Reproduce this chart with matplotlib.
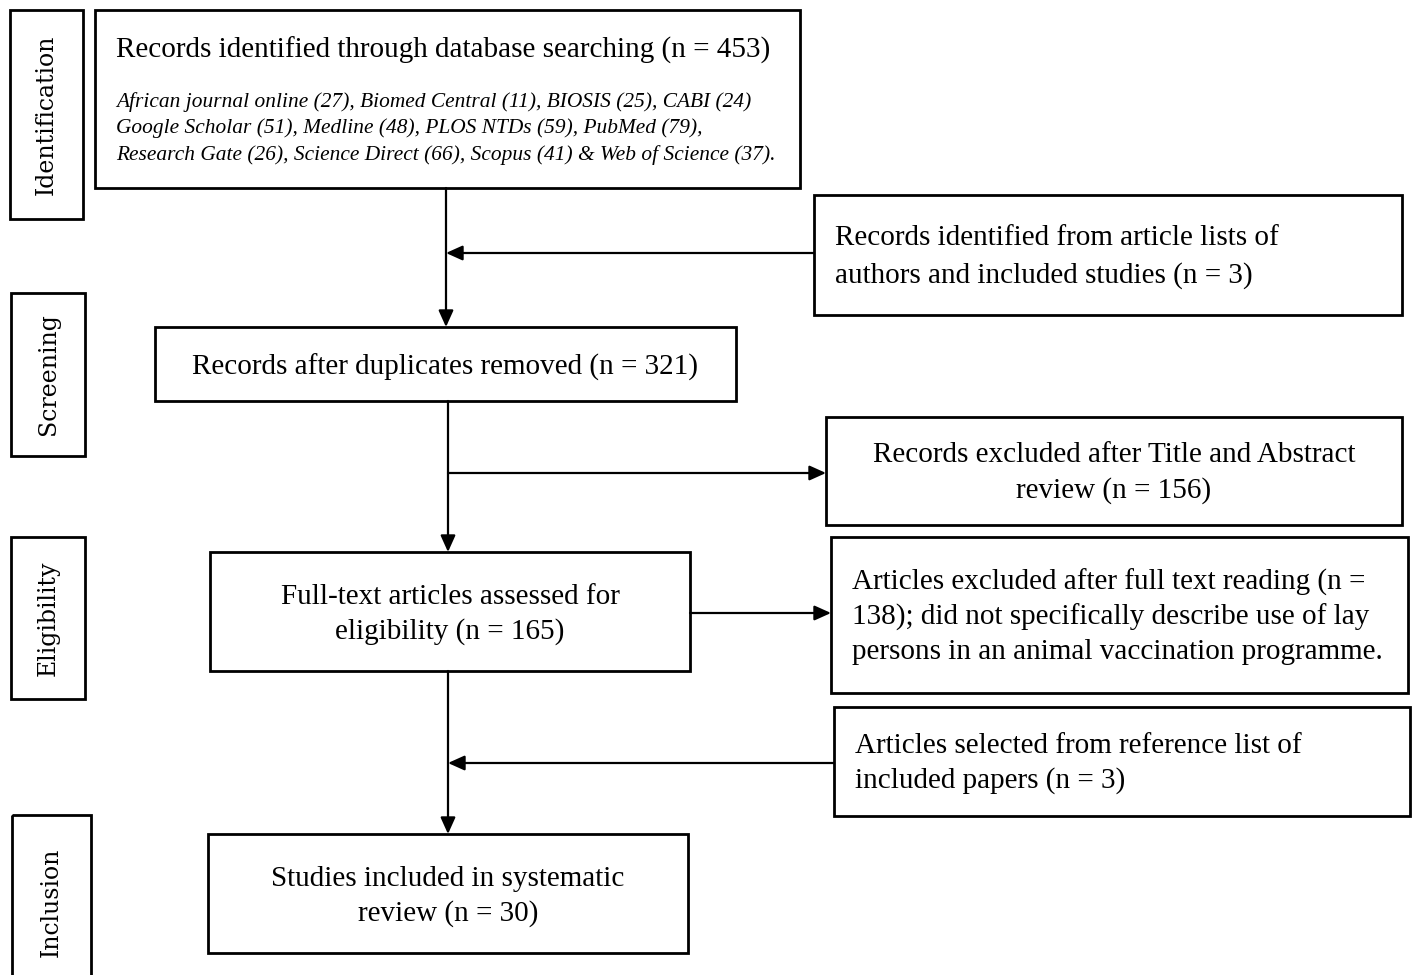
import matplotlib
matplotlib.use("Agg")
import matplotlib.pyplot as plt
from matplotlib.patches import Rectangle

# stage labels on the left
stage_labels = ["Identification", "Screening", "Eligibility", "Inclusion"]
stage_boxes = [(10, 10, 73, 209), (11, 293, 74, 163), (11, 537, 74, 162), (12, 815, 79, 175)]

# main flow boxes: (x, y, w, h), text lines
main_texts = [
    "Records after duplicates removed (n = 321)",
    "Full-text articles assessed for\neligibility (n = 165)",
    "Studies included in systematic\nreview (n = 30)",
]
main_boxes = [(155, 327, 581, 74), (210, 552, 480, 119), (208, 834, 480, 119)]

side_texts = [
    "Records identified from article lists of\nauthors and included studies (n = 3)",
    "Records excluded after Title and Abstract\nreview (n = 156)",
    "Articles excluded after full text reading (n =\n138); did not specifically describe use of lay\npersons in an animal vaccination programme.",
    "Articles selected from reference list of\nincluded papers (n = 3)",
]
side_boxes = [(814, 195, 588, 120), (826, 417, 576, 108), (831, 537, 577, 156), (834, 707, 576, 109)]
side_align = ["left", "center", "left", "left"]
side_spacing = [1.55, 1.4, 1.4, 1.4]

search_title = "Records identified through database searching (n = 453)"
search_sources = [
    "African journal online (27), Biomed Central (11), BIOSIS (25), CABI (24)",
    "Google Scholar (51), Medline (48), PLOS NTDs (59), PubMed (79),",
    "Research Gate (26), Science Direct (66), Scopus (41) & Web of Science (37).",
]

serif = "Liberation Serif"
fs = 21

fig = plt.figure(figsize=(14.12, 9.75), dpi=100)
ax = fig.add_axes([0, 0, 1, 1])
ax.set_xlim(0, 1412)
ax.set_ylim(975, 0)
ax.axis("off")


def box(x, y, w, h, lw=2):
    ax.add_patch(Rectangle((x, y), w, h, fill=False, edgecolor="black", linewidth=lw))


def arrow(x0, y0, x1, y1):
    ax.annotate("", xy=(x1, y1), xytext=(x0, y0),
                arrowprops=dict(arrowstyle="-|>,head_length=1.0,head_width=0.45",
                                color="black", lw=1.6, shrinkA=0, shrinkB=0))


# stage labels
for lab, (x, y, w, h) in zip(stage_labels, stage_boxes):
    box(x, y, w, h)
    ax.text(x + w / 2, y + h / 2, lab, rotation=90, ha="center", va="center",
            family="DejaVu Serif", fontsize=17)

# search box
box(95, 10, 705, 178)
ax.text(116, 50, search_title, ha="left", va="center", family=serif, fontsize=fs)
for i, line in enumerate(search_sources):
    ax.text(116, 102 + i * 26.5, line, ha="left", va="center", family=serif,
            style="italic", fontsize=15.4)

# main boxes
for txt, (x, y, w, h) in zip(main_texts, main_boxes):
    box(x, y, w, h)
    ax.text(x + w / 2, y + h / 2 + 3, txt, ha="center", va="center", family=serif,
            fontsize=fs, linespacing=1.4)

# side boxes
for txt, (x, y, w, h), al, ls in zip(side_texts, side_boxes, side_align, side_spacing):
    box(x, y, w, h)
    tx = x + 21 if al == "left" else x + w / 2
    ax.text(tx, y + h / 2 + 2, txt, ha=al, va="center", multialignment=al, family=serif,
            fontsize=fs, linespacing=ls)

# arrows
arrow(446, 188, 446, 327)
arrow(814, 253, 446, 253)
arrow(448, 401, 448, 552)
arrow(448, 473, 826, 473)
arrow(690, 613, 831, 613)
arrow(448, 671, 448, 834)
arrow(834, 763, 448, 763)

fig.savefig("out.png", dpi=100)
